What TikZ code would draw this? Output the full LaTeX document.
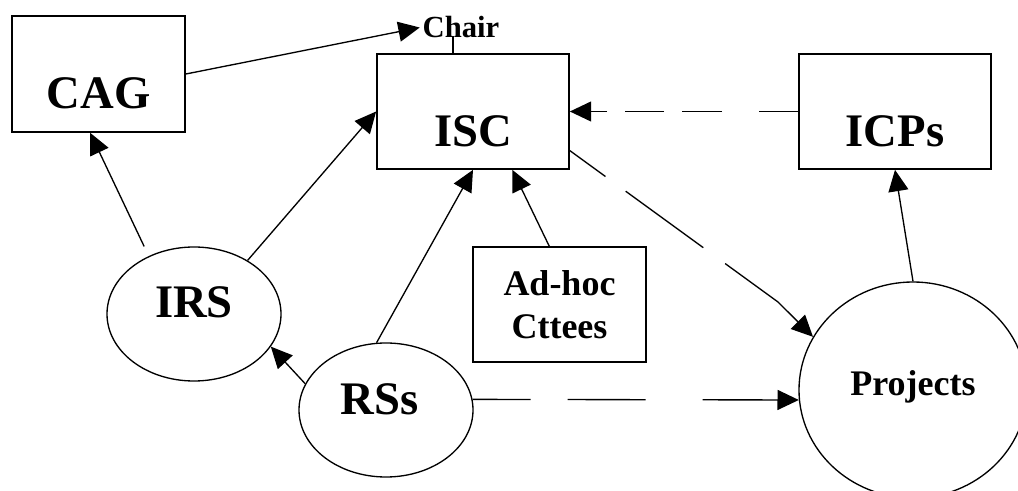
\documentclass[tikz,border=0pt]{standalone}
\usepackage{fontspec}
\setmainfont{Liberation Serif}
\usetikzlibrary{arrows.meta,shapes.geometric}
\begin{document}
\begin{tikzpicture}[x=0.75pt,y=-0.75pt,
  bigfont/.style={font=\bfseries\fontsize{35}{42}\selectfont},
  midfont/.style={font=\bfseries\fontsize{27}{32.4}\selectfont},
  boxnode/.style={draw,line width=1.3pt,rectangle,inner sep=0pt},
  bigbox/.style={boxnode,bigfont,minimum width=144pt,minimum height=86.25pt,text height=52pt,text depth=0pt},
  oval/.style={draw,ellipse,line width=1pt,inner sep=0pt},
  conn/.style={line width=1pt,-{Triangle[length=16pt,width=15pt]}},
]
\path[use as bounding box] (0,0) rectangle (1018,491);
\clip (0,0) rectangle (1018,491);

% nodes
\node[bigbox,minimum width=129.75pt,minimum height=87pt] (cag) at (98.5,74) {CAG};
\node[bigbox] (isc) at (473,111.5) {ISC};
\node[bigbox] (icps) at (895,111.5) {ICPs};
\node[boxnode,midfont,minimum width=129.75pt,minimum height=86.25pt,align=center] (adhoc) at (559.5,304.5) {Ad-hoc\\Cttees};
\node[oval,bigfont,minimum width=130.5pt,minimum height=100.5pt,text height=23pt,text depth=18pt] (irs) at (194,314) {IRS};
\node[oval,bigfont,minimum width=130.5pt,minimum height=100.5pt,text height=23pt,text depth=16.5pt] (rss) at (386,410) {\hspace*{-10pt}RSs};
\node[oval,midfont,minimum width=171pt,minimum height=162pt,text height=17.8pt,text depth=9pt] (proj) at (913,390) {Projects};
\node[font=\bfseries\fontsize{23}{27.6}\selectfont,inner sep=2pt,anchor=base] (chair) at (461,38) {Chair};

% chair tick
\coordinate (tick) at (453,36);
\draw[line width=1pt] (isc.north -| tick) -- (tick);

% solid connectors
\draw[conn] (cag.east) -- (chair.west);
\draw[conn,shorten <=8pt] (irs.128) -- (cag.262);
\draw[conn] (irs.45) -- (isc.west);
\draw[conn] (rss.98) -- (isc.south);
\draw[conn] (adhoc.100) -- (isc.304);
\draw[conn] (rss.162) -- (irs.337);
\draw[conn] (proj.north) -- (icps.south);

% dashed connectors
\draw[conn,dash pattern=on 29.25pt off 27.75pt on 30pt off 13.5pt on 29.25pt off 13.5pt on 150pt off 1pt] (icps.west) -- (isc.east);
\draw[conn,dash pattern=on 43.5pt off 27.75pt on 58.5pt off 42.75pt on 150pt off 1pt] (rss.7) -- (proj.185);
\coordinate (bend) at (778,302);
\draw[conn,dash pattern=on 33pt off 18.75pt on 72pt off 20.25pt on 150pt off 1pt] (isc.338) -- (bend) -- (proj.152);
\end{tikzpicture}
\end{document}
